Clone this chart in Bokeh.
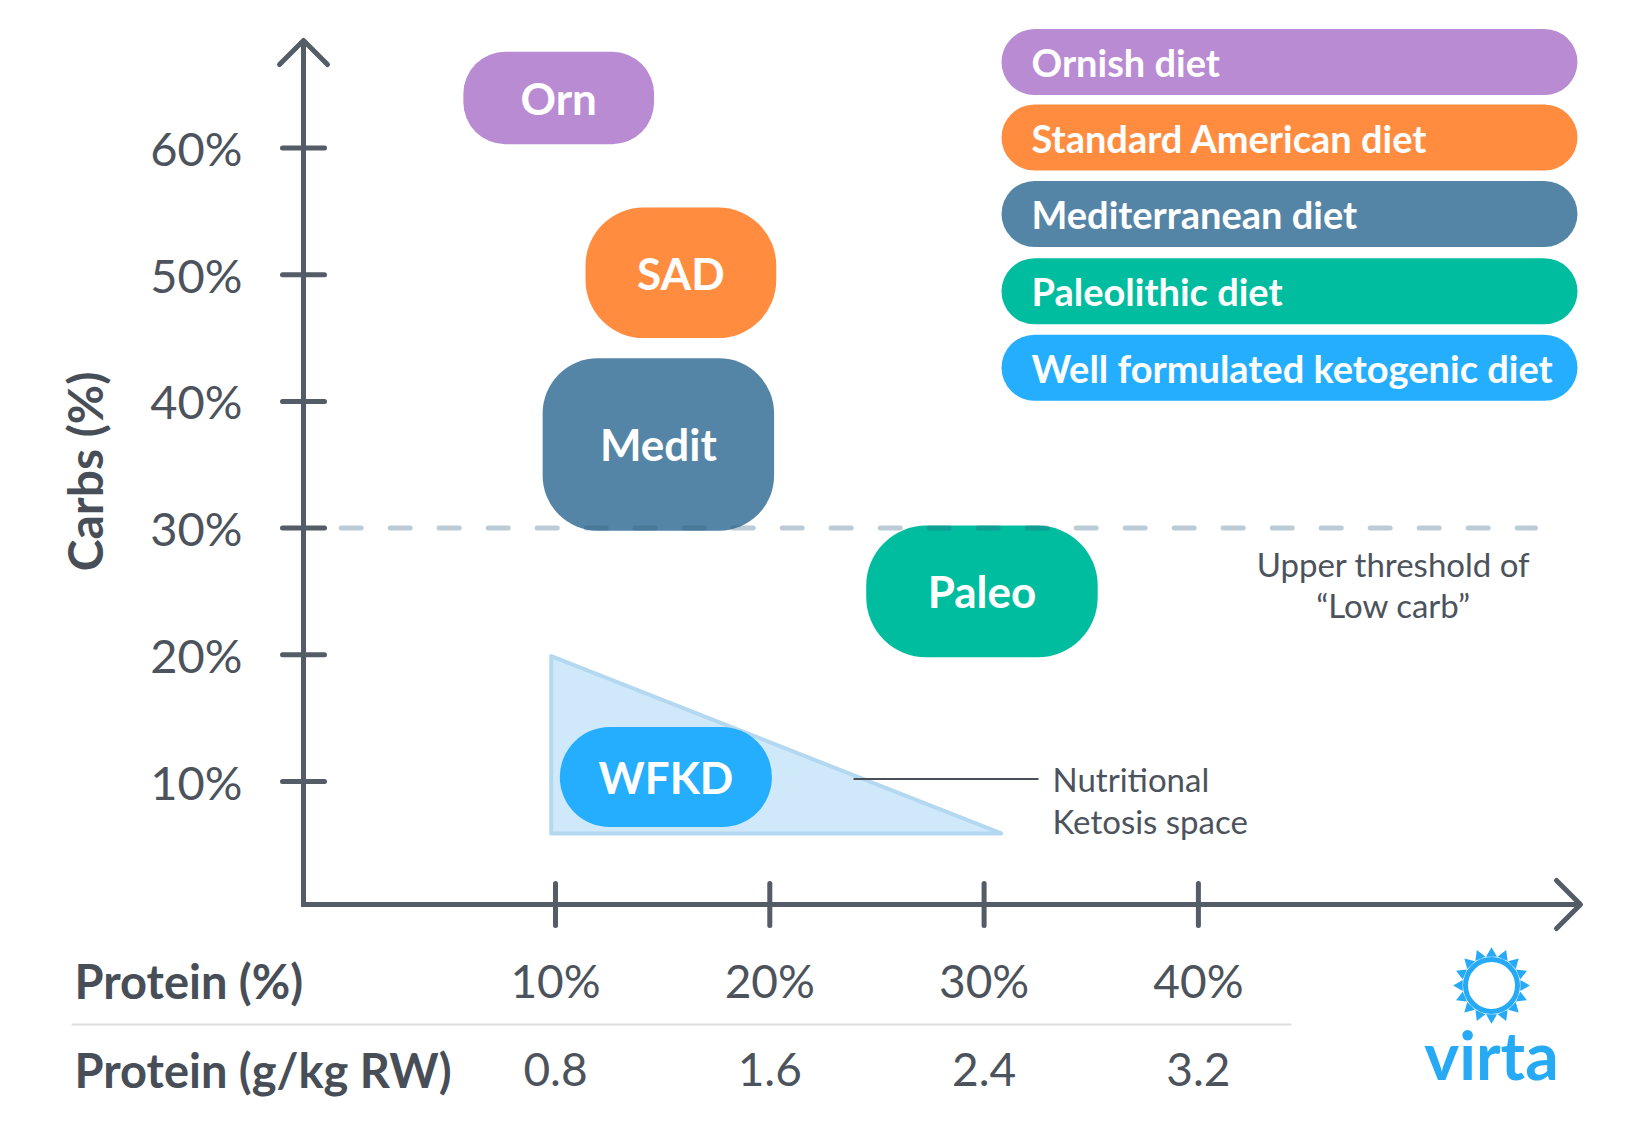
import math
from bokeh.plotting import figure
from bokeh.models import Range1d, ColumnDataSource
from bokeh.core.properties import value
from bokeh.embed import file_html
from bokeh.resources import INLINE

# ---------------- data ----------------
diet_names = ["Ornish diet", "Standard American diet", "Mediterranean diet",
              "Paleolithic diet", "Well formulated ketogenic diet"]
diet_short = ["Orn", "SAD", "Medit", "Paleo", "WFKD"]
protein_lo = [5.7, 11.4, 9.4, 24.5, 10.2]
protein_hi = [14.6, 20.3, 20.2, 35.3, 20.1]
carbs_lo = [60.3, 45.0, 29.8, 19.8, 6.4]
carbs_hi = [67.6, 55.3, 43.4, 30.2, 14.3]
diet_colors = ["#b98bd3", "#ff8c3f", "#5485a6", "#00bda0", "#25aefe"]

ketosis_protein = [9.8, 9.8, 30.8]
ketosis_carbs = [19.9, 5.9, 5.9]

carbs_ticks = [10, 20, 30, 40, 50, 60]
carbs_tick_labels = ["10%", "20%", "30%", "40%", "50%", "60%"]
protein_ticks = [10, 20, 30, 40]
protein_tick_labels = ["10%", "20%", "30%", "40%"]
protein_gkg_labels = ["0.8", "1.6", "2.4", "3.2"]
low_carb_threshold = 30

# ---------------- layout (screen calibration) ----------------
W, H = 1636, 1114
X0, PXP = 340.7, 21.43     # screen x of protein 0, px per protein %
Y0, PYC = 907.7, 12.67     # screen y of carbs 0, px per carbs %


def dx(px):
    return (px - X0) / PXP


def dy(py):
    return (Y0 - py) / PYC


p = figure(width=W, height=H,
           x_range=Range1d(dx(0), dx(W)), y_range=Range1d(dy(H), dy(0)),
           output_backend="svg", toolbar_location=None, min_border=0,
           x_axis_location=None, y_axis_location=None)
p.grid.visible = False
p.outline_line_color = None
p.background_fill_color = "white"

FONT = value("Lato")
AXIS_COL = "#535c67"
TXT_COL = "#4c535c"

# ---------------- ketosis triangle ----------------
p.patch(ketosis_protein, ketosis_carbs, fill_color="#cfe9fa", line_color="#b4d8f0",
        line_width=4, line_join="round")

# ---------------- diet blobs ----------------
radii = [42, 58, 55, 60, 50]
for i in range(len(diet_short)):
    p.quad(left=[protein_lo[i]], right=[protein_hi[i]], bottom=[carbs_lo[i]], top=[carbs_hi[i]],
           fill_color=diet_colors[i], line_color=None, border_radius=radii[i])

# ---------------- low-carb threshold ----------------
p.line([0, dx(1535)], [low_carb_threshold, low_carb_threshold], line_color="#2e5f80",
       line_alpha=0.32, line_width=5, line_dash="20 29", line_cap="round")

# blob labels
p.text(x=[(a + b) / 2 for a, b in zip(protein_lo, protein_hi)],
       y=[(a + b) / 2 for a, b in zip(carbs_lo, carbs_hi)],
       text=diet_short, text_font=FONT, text_font_style="bold", text_font_size="44px",
       text_color="white", text_align="center", text_baseline="middle")

# ---------------- axes ----------------
AX_P, AX_C = dx(303), dy(904)
p.line([AX_P, AX_P, dx(1580)], [dy(40), AX_C, AX_C], line_color=AXIS_COL, line_width=5,
       line_join="miter")
p.line([dx(279), AX_P, dx(327)], [dy(64), dy(40), dy(64)], line_color=AXIS_COL,
       line_width=5, line_join="round", line_cap="round")
p.line([dx(1556), dx(1580), dx(1556)], [dy(880), AX_C, dy(928)], line_color=AXIS_COL,
       line_width=5, line_join="round", line_cap="round")
TL = 21
p.segment(x0=[AX_P - TL / PXP] * len(carbs_ticks), x1=[AX_P + TL / PXP] * len(carbs_ticks),
          y0=carbs_ticks, y1=carbs_ticks, line_color=AXIS_COL, line_width=5, line_cap="round")
p.segment(x0=protein_ticks, x1=protein_ticks, y0=[AX_C + TL / PYC] * len(protein_ticks),
          y1=[AX_C - TL / PYC] * len(protein_ticks), line_color=AXIS_COL, line_width=5,
          line_cap="round")

p.text(x=[dx(242)] * len(carbs_ticks), y=carbs_ticks, text=carbs_tick_labels, text_font=FONT,
       text_font_size="47px", text_color=TXT_COL, text_align="right", text_baseline="middle")
p.text(x=protein_ticks, y=[dy(980)] * len(protein_ticks), text=protein_tick_labels,
       text_font=FONT, text_font_size="46px", text_color=TXT_COL, text_align="center",
       text_baseline="middle")
p.text(x=protein_ticks, y=[dy(1069)] * len(protein_ticks), text=protein_gkg_labels,
       text_font=FONT, text_font_size="46px", text_color=TXT_COL, text_align="center",
       text_baseline="middle")
p.text(x=[dx(74), dx(74)], y=[dy(980), dy(1069)], text=["Protein (%)", "Protein (g/kg RW)"],
       text_font=FONT, text_font_style="bold", text_font_size="47px", text_color="#474e57",
       text_align="left", text_baseline="middle")
p.line([dx(71), dx(1291)], [dy(1024), dy(1024)], line_color="#dddddd", line_width=2)
p.text(x=[dx(84)], y=[dy(471)], text=["Carbs (%)"], angle=math.pi / 2, text_font=FONT,
       text_font_style="bold", text_font_size="48px", text_color="#474e57",
       text_align="center", text_baseline="middle")

# ---------------- annotations ----------------
p.line([dx(853), dx(1038)], [dy(778.6), dy(778.6)], line_color="#4a4f55", line_width=2)
p.text(x=[dx(1052)] * 2, y=[dy(778), dy(820)], text=["Nutritional", "Ketosis space"],
       text_font=FONT, text_font_size="33px", text_color=TXT_COL, text_align="left",
       text_baseline="middle")
p.text(x=[dx(1393)] * 2, y=[dy(563), dy(604)], text=["Upper threshold of", "\u201cLow carb\u201d"],
       text_font=FONT, text_font_size="33px", text_color=TXT_COL, text_align="center",
       text_baseline="middle")

# ---------------- legend pills ----------------
leg_y = [61.6, 137.0, 213.4, 290.8, 367.2]
leg = ColumnDataSource(dict(
    left=[dx(1001)] * 5, right=[dx(1577)] * 5,
    top=[dy(y - 33) for y in leg_y], bottom=[dy(y + 33) for y in leg_y],
    color=diet_colors, name=diet_names, tx=[dx(1031)] * 5, ty=[dy(y) for y in leg_y]))
p.quad(left="left", right="right", top="top", bottom="bottom", fill_color="color",
       line_color=None, border_radius=33, source=leg)
p.text(x="tx", y="ty", text="name", source=leg, text_font=FONT, text_font_style="bold",
       text_font_size="38px", text_color="white", text_align="left", text_baseline="middle")

# ---------------- logo ----------------
BLUE = "#27aaf6"
cx, cy = 1491, 985
p.scatter([dx(cx)], [dy(cy)], marker="circle", size=52, fill_color=None, line_color=BLUE,
          line_width=5)
n = 16
th = [2 * math.pi * k / n + math.pi / 2 for k in range(n)]
p.scatter([dx(cx + 32 * math.cos(t)) for t in th], [dy(cy - 32 * math.sin(t)) for t in th],
          marker="triangle", size=11, angle=[t - math.pi / 2 for t in th],
          fill_color=BLUE, line_color=None)
p.text(x=[dx(cx)], y=[dy(1054)], text=["virta"], text_font=FONT, text_font_style="bold",
       text_font_size="66px", text_color=BLUE, text_align="center", text_baseline="middle")

open("out.html", "w").write(file_html(p, INLINE))
